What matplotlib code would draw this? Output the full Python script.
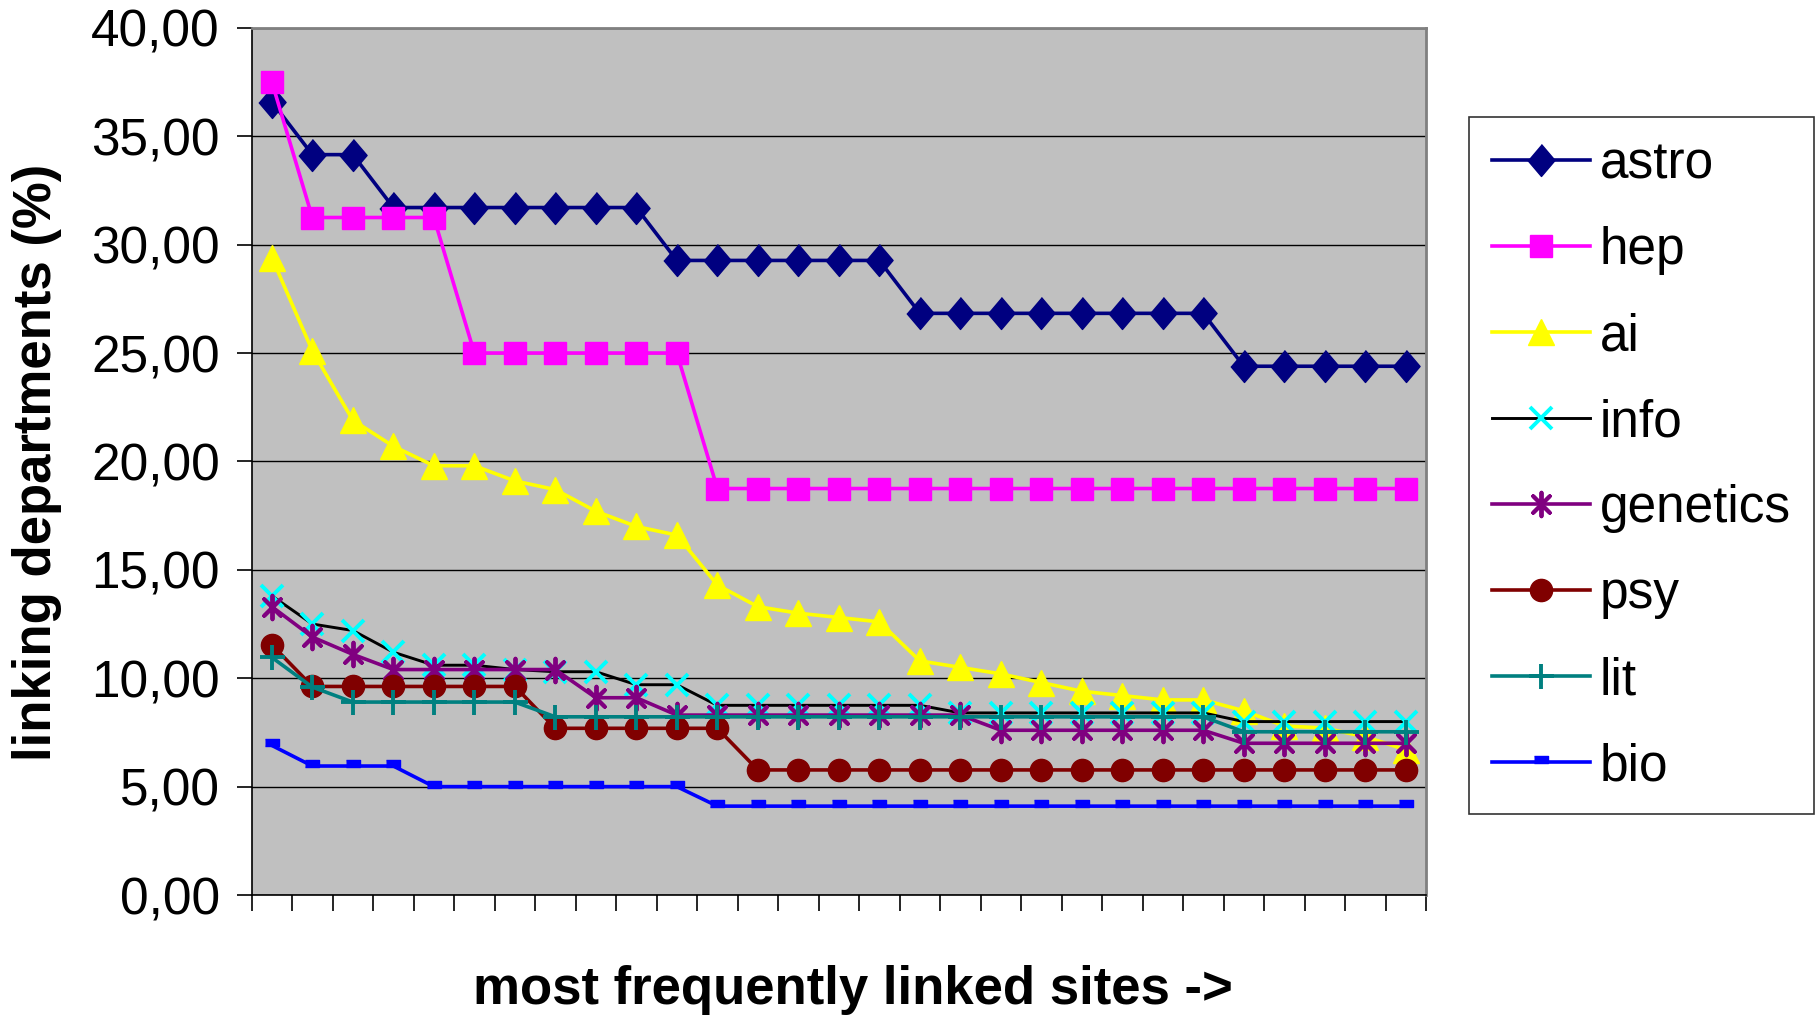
import numpy as np
import matplotlib.pyplot as plt
from matplotlib.ticker import FuncFormatter

plt.rcParams['font.family'] = ['Liberation Sans', 'DejaVu Sans']

# 29 most frequently linked sites, share of linking departments (%)
sites = np.arange(1, 30)
astro = [36.59, 34.15, 34.15, 31.71, 31.71, 31.71, 31.71, 31.71, 31.71, 31.71,
         29.27, 29.27, 29.27, 29.27, 29.27, 29.27, 26.83, 26.83, 26.83, 26.83,
         26.83, 26.83, 26.83, 26.83, 24.39, 24.39, 24.39, 24.39, 24.39]
hep = [37.50, 31.25, 31.25, 31.25, 31.25, 25.00, 25.00, 25.00, 25.00, 25.00,
       25.00, 18.75, 18.75, 18.75, 18.75, 18.75, 18.75, 18.75, 18.75, 18.75,
       18.75, 18.75, 18.75, 18.75, 18.75, 18.75, 18.75, 18.75, 18.75]
ai = [29.4, 25.1, 21.9, 20.7, 19.8, 19.8, 19.1, 18.7, 17.7, 17.0,
      16.6, 14.3, 13.3, 13.0, 12.8, 12.6, 10.8, 10.5, 10.2, 9.8,
      9.4, 9.2, 9.0, 9.0, 8.5, 7.8, 7.7, 7.3, 6.7]
info = [13.8, 12.5, 12.2, 11.2, 10.6, 10.6, 10.4, 10.3, 10.3, 9.7,
        9.7, 8.75, 8.75, 8.75, 8.75, 8.75, 8.75, 8.4, 8.4, 8.4,
        8.4, 8.4, 8.4, 8.4, 8.0, 8.0, 8.0, 8.0, 8.0]
genetics = [13.3, 11.9, 11.1, 10.4, 10.4, 10.4, 10.4, 10.4, 9.1, 9.1,
            8.3, 8.3, 8.3, 8.3, 8.3, 8.3, 8.3, 8.3, 7.6, 7.6,
            7.6, 7.6, 7.6, 7.6, 7.0, 7.0, 7.0, 7.0, 7.0]
psy = [11.54, 9.62, 9.62, 9.62, 9.62, 9.62, 9.62, 7.69, 7.69, 7.69,
       7.69, 7.69, 5.77, 5.77, 5.77, 5.77, 5.77, 5.77, 5.77, 5.77,
       5.77, 5.77, 5.77, 5.77, 5.77, 5.77, 5.77, 5.77, 5.77]
lit = [10.96, 9.59, 8.90, 8.90, 8.90, 8.90, 8.90, 8.22, 8.22, 8.22,
       8.22, 8.22, 8.22, 8.22, 8.22, 8.22, 8.22, 8.22, 8.22, 8.22,
       8.22, 8.22, 8.22, 8.22, 7.53, 7.53, 7.53, 7.53, 7.53]
bio = [6.9, 5.95, 5.95, 5.95, 5.0, 5.0, 5.0, 5.0, 5.0, 5.0,
       5.0, 4.1, 4.1, 4.1, 4.1, 4.1, 4.1, 4.1, 4.1, 4.1,
       4.1, 4.1, 4.1, 4.1, 4.1, 4.1, 4.1, 4.1, 4.1]

# excel-like markers
diamond = [(0, 1), (0.85, 0), (0, -1), (-0.85, 0)]
dash = [(-1, -0.15), (1, -0.15), (1, 0.85), (-1, 0.85)]
asterisk = [(0, 0), (0, 1), (0, 0), (0.7, 0.7), (0, 0), (0.7, -0.7), (0, 0),
            (0, -1), (0, 0), (-0.7, -0.7), (0, 0), (-0.7, 0.7), (0, 0)]

fig = plt.figure(figsize=(18.18, 10.15), dpi=100)
ax = fig.add_axes([0.1384, 0.1182, 0.646, 0.8544])
ax.set_facecolor('#C0C0C0')

lw = 2.6
ax.plot(sites, astro, color='#000080', lw=lw, marker=diamond, ms=23, label='astro')
ax.plot(sites, hep, color='#FF00FF', lw=lw, marker='s', ms=16, label='hep')
ax.plot(sites, ai, color='#FFFF00', lw=lw, marker='^', ms=19, label='ai')
ax.plot(sites, info, color='black', lw=2.1, marker='x', ms=16, mec='#00FFFF', mew=2.8, label='info')
ax.plot(sites, genetics, color='#800080', lw=lw, marker=asterisk, ms=17, mew=2.8, label='genetics')
ax.plot(sites, psy, color='#800000', lw=lw, marker='o', ms=16, label='psy')
ax.plot(sites, lit, color='#008080', lw=lw, marker='+', ms=18, mew=2.8, label='lit')
ax.plot(sites, bio, color='#0000FF', lw=lw, marker=dash, ms=10, label='bio')

ax.set_xlim(0.5, 29.5)
ax.set_ylim(0, 40)
ax.set_yticks(np.arange(0, 41, 5))
ax.yaxis.set_major_formatter(FuncFormatter(lambda v, p: f'{v:.2f}'.replace('.', ',')))
ax.set_xticks(np.arange(0.5, 30, 1))
ax.set_xticklabels([])
ax.tick_params(axis='y', direction='out', length=11, width=1.2, labelsize=37, pad=12)
ax.tick_params(axis='x', direction='out', length=11.5, width=1.2)
ax.yaxis.grid(True, color='black', lw=1.0)
ax.set_axisbelow(True)

for s in ['top', 'right']:
    ax.spines[s].set_color('#808080')
    ax.spines[s].set_linewidth(2)
for s in ['left', 'bottom']:
    ax.spines[s].set_color('black')
    ax.spines[s].set_linewidth(1.2)

fig.text(0.0204, 0.544, 'linking departments (%)', rotation=90, ha='center', va='center',
         fontsize=38, fontweight='bold')
fig.text(0.469, 0.011, 'most frequently linked sites ->', ha='center', va='baseline',
         fontsize=38, fontweight='bold')

leg = fig.legend(loc='upper left', bbox_to_anchor=(0.808, 0.8847), fontsize=37,
                 frameon=True, fancybox=False, edgecolor='black', borderaxespad=0,
                 labelspacing=0.72, handlelength=1.9, handletextpad=0.2, borderpad=0.45)
leg.get_frame().set_linewidth(1.2)

fig.savefig('out.png', dpi=100)
